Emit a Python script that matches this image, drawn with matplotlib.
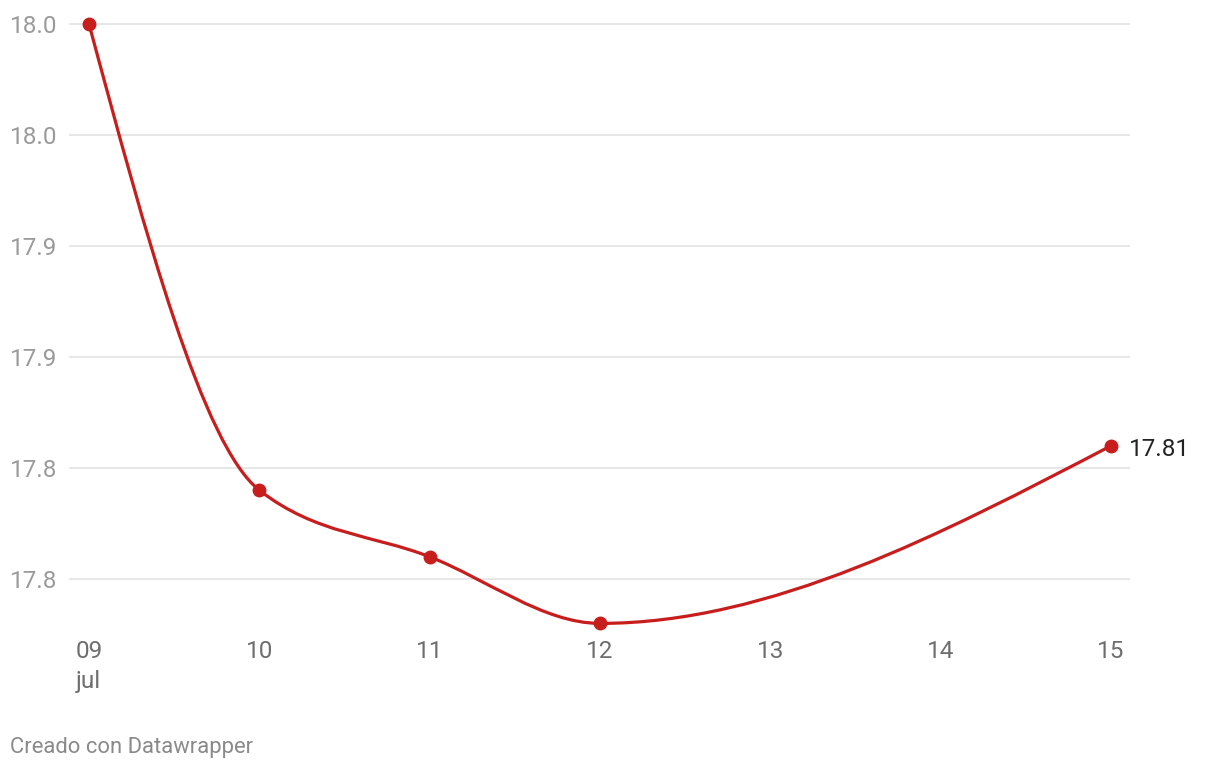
import matplotlib
matplotlib.use("Agg")
import matplotlib.pyplot as plt
import numpy as np
from matplotlib.path import Path
from matplotlib.patches import PathPatch

plt.rcParams['font.family'] = ['Roboto', 'DejaVu Sans']

# Datos (días de julio)
days = [9, 10, 11, 12, 15]
values = [18.00, 17.79, 17.76, 17.73, 17.81]
y_ticks = [17.75, 17.80, 17.85, 17.90, 17.95, 18.00]
y_labels = ['17.8', '17.8', '17.9', '17.9', '18.0', '18.0']
x_ticks = [9, 10, 11, 12, 13, 14, 15]
x_labels = ['09\njul', '10', '11', '12', '13', '14', '15']

RED = '#c71e1d'


def monotone_path(x, y):
    # curva monotona en x (como d3.curveMonotoneX), con segmentos bezier
    x = np.asarray(x, float)
    y = np.asarray(y, float)
    n = len(x)
    h = np.diff(x)
    s = np.diff(y) / h
    t = np.zeros(n)
    for i in range(1, n - 1):
        h0, h1 = h[i - 1], h[i]
        s0, s1 = s[i - 1], s[i]
        p = (s0 * h1 + s1 * h0) / (h0 + h1)
        t[i] = (np.sign(s0) + np.sign(s1)) * min(abs(s0), abs(s1), 0.5 * abs(p))
    t[0] = (3 * s[0] - t[1]) / 2
    t[-1] = (3 * s[-1] - t[-2]) / 2
    verts = [(x[0], y[0])]
    codes = [Path.MOVETO]
    for i in range(n - 1):
        dx = (x[i + 1] - x[i]) / 3
        verts += [(x[i] + dx, y[i] + dx * t[i]),
                  (x[i + 1] - dx, y[i + 1] - dx * t[i + 1]),
                  (x[i + 1], y[i + 1])]
        codes += [Path.CURVE4] * 3
    return Path(verts, codes)


fig = plt.figure(figsize=(12.2, 7.7), dpi=100)
W, H = 1220, 770
ax = fig.add_axes([69 / W, 1 - 630 / H, 1061 / W, 610 / H])

px_day = (1111 - 89) / 6
ax.set_xlim(9 - 20 / px_day, 15 + 19 / px_day)
ax.set_ylim(17.75 - 51 / 2220, 18.0 + 4 / 2220)

ax.add_patch(PathPatch(monotone_path(days, values), facecolor='none',
                       edgecolor=RED, linewidth=2.3, capstyle='round',
                       zorder=3, clip_on=False))
ax.plot(days, values, 'o', color=RED, markersize=9, zorder=4, clip_on=False)

ax.text(15 + 18 / px_day, values[-1] - 4 / 2220, '17.81', fontsize=17.5,
        color='#222222', va='center', ha='left')

ax.set_yticks(y_ticks)
ax.set_yticklabels(y_labels)
ax.set_xticks(x_ticks)
ax.set_xticklabels(x_labels, linespacing=1.4)
for lab in ax.get_xticklabels():
    lab.set_multialignment('left')
ax.tick_params(axis='y', length=0, pad=8.5, labelsize=17.5, labelcolor='#9a9a9a')
ax.tick_params(axis='x', length=0, pad=7, labelsize=17.5, labelcolor='#6e6e6e')
ax.grid(axis='y', color='#e3e3e3', linewidth=1.2)
ax.set_axisbelow(True)
for sp in ax.spines.values():
    sp.set_visible(False)

fig.text(10 / W, 1 - 748 / H, 'Creado con Datawrapper', fontsize=15.8,
         color='#8a8a8a', va='center', ha='left')

fig.savefig('out.png', dpi=100, facecolor='white')
